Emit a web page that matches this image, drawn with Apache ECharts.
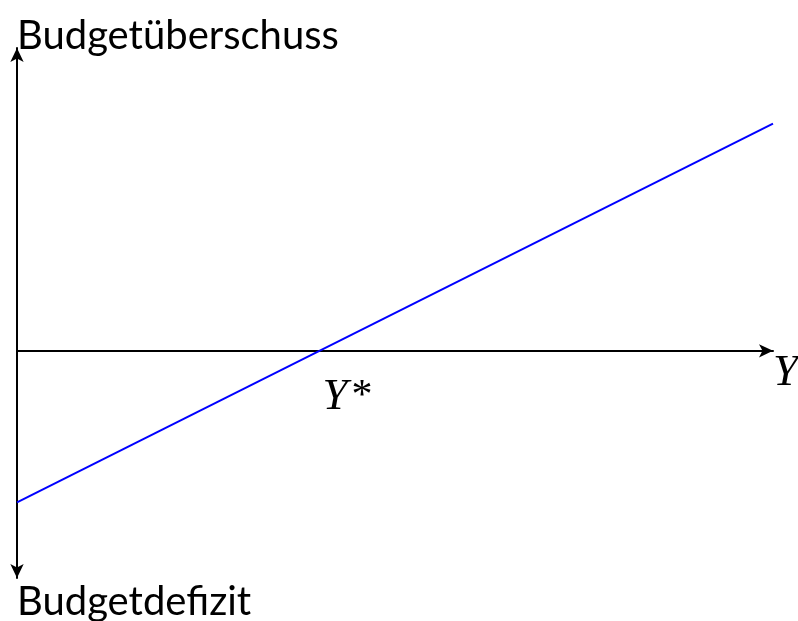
<!DOCTYPE html>
<html>
<head>
<meta charset="utf-8">
<script src="https://cdn.jsdelivr.net/npm/echarts@6/dist/echarts.min.js"></script>
<style>
  html, body { margin: 0; padding: 0; background: #fff; }
  #chart { width: 798px; height: 621px; }
</style>
</head>
<body>
<div id="chart"></div>
<script>
// budget line: surplus grows with income Y, zero at Y*
var incomeY = [0, 100];
var budgetBalance = [-20, 30];
var yStarPoint = [40, 0];
var surplusLabel = 'Budgetüberschuss';
var deficitLabel = 'Budgetdefizit';

var chart = echarts.init(document.getElementById('chart'));

var lineData = incomeY.map(function (x, i) {
    return [x, budgetBalance[i]];
});

var option = {
    animation: false,
    backgroundColor: '#fff',
    grid: {
        left: 17,
        right: 25,
        top: 48,
        bottom: 43,
        containLabel: false,
        outerBoundsMode: 'none'
    },
    xAxis: {
        type: 'value',
        min: 0,
        max: 100,
        name: 'Y',
        nameLocation: 'end',
        nameGap: 0,
        nameTextStyle: {
            fontFamily: 'Liberation Serif',
            fontStyle: 'italic',
            fontSize: 45,
            color: '#000',
            align: 'left',
            verticalAlign: 'top'
        },
        axisLine: {
            onZero: true,
            symbol: ['none', 'arrow'],
            symbolSize: [10, 14],
            lineStyle: { color: '#000', width: 2 }
        },
        axisTick: { show: false },
        axisLabel: { show: false },
        splitLine: { show: false }
    },
    yAxis: {
        type: 'value',
        min: -30,
        max: 40,
        name: surplusLabel,
        nameLocation: 'end',
        nameGap: 12,
        nameTextStyle: {
            fontFamily: 'Lato',
            fontSize: 40,
            color: '#000',
            align: 'left',
            verticalAlign: 'middle'
        },
        axisLine: {
            onZero: true,
            symbol: ['arrow', 'arrow'],
            symbolSize: [10, 14],
            lineStyle: { color: '#000', width: 2 }
        },
        axisTick: { show: false },
        axisLabel: { show: false },
        splitLine: { show: false }
    },
    graphic: [
        {
            type: 'text',
            left: 17,
            top: 582,
            style: {
                text: deficitLabel,
                fontFamily: 'Lato',
                fontSize: 40,
                fill: '#000'
            }
        }
    ],
    series: [
        {
            type: 'line',
            data: lineData,
            showSymbol: false,
            lineStyle: { color: '#0000ff', width: 2 },
            itemStyle: { color: '#0000ff' },
            z: 3
        },
        {
            type: 'scatter',
            data: [yStarPoint],
            symbolSize: 0,
            silent: true,
            itemStyle: { color: '#000', opacity: 1 },
            label: {
                show: true,
                position: [3, 46],
                align: 'left',
                verticalAlign: 'middle',
                color: '#000',
                opacity: 1,
                textBorderWidth: 0,
                formatter: '{i|Y}{s|*}',
                rich: {
                    i: {
                        fontFamily: 'Liberation Serif',
                        fontStyle: 'italic',
                        fontSize: 45,
                        color: '#000'
                    },
                    s: {
                        fontFamily: 'Liberation Serif',
                        fontSize: 42,
                        color: '#000',
                        padding: [0, 0, 0, 4]
                    }
                }
            }
        }
    ]
};
chart.setOption(option);
</script>
</body>
</html>
